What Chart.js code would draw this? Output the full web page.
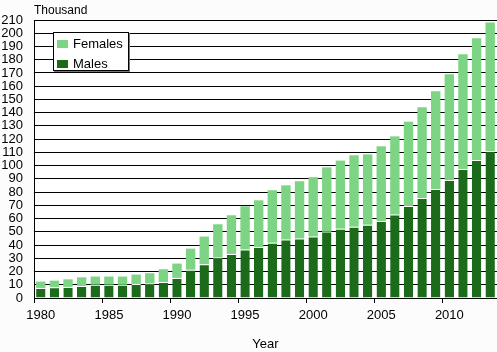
<!DOCTYPE html>
<html>
<head>
<meta charset="utf-8">
<script src="https://cdn.jsdelivr.net/npm/chart.js@4/dist/chart.umd.min.js"></script>
<style>
  html, body { margin: 0; padding: 0; background: #fcfcfc; }
  #wrap { position: relative; width: 497px; height: 352px; }
  #legend { position: absolute; left: 53px; top: 32px; width: 74px; height: 37px;
    border: 1px solid #000; background: #fff; box-shadow: 1px 1px 0 #777;
    font: 13px "Liberation Sans", Arial, sans-serif; color: #000; }
  .item { position: absolute; left: 3px; height: 16px; line-height: 16px; white-space: nowrap; }
  .sw { display: inline-block; width: 11px; height: 8px; margin-right: 5px; vertical-align: 0px; }
</style>
</head>
<body>
<div id="wrap">
  <canvas id="c" width="497" height="352"></canvas>
  <div id="legend"></div>
</div>
<script>
const years = [1980,1981,1982,1983,1984,1985,1986,1987,1988,1989,1990,1991,1992,1993,1994,1995,1996,1997,1998,1999,2000,2001,2002,2003,2004,2005,2006,2007,2008,2009,2010,2011,2012,2013];
const males = [7.6,8.1,8.4,9.1,10.1,10.1,10.0,10.6,10.9,12.1,15.2,21.4,25.5,30.5,33.3,36.6,38.6,41.8,44.1,44.9,46.4,50.2,52.4,53.9,55.4,58.2,63.0,69.5,75.6,82.4,89.2,97.5,104.3,110.8];
const females = [4.8,5.0,5.7,6.5,6.1,6.1,6.2,7.1,7.8,9.6,10.8,15.9,20.9,25.2,29.2,32.7,35.2,39.6,41.0,43.3,44.9,48.5,51.4,53.9,53.1,56.4,59.1,63.7,68.4,73.7,79.8,86.6,91.9,97.4];
const seriesNames = ['Males', 'Females'];
const unitLabel = 'Thousand';
const axisTitle = 'Year';
const yMax = 210, yStep = 10;

const FONT = '"Liberation Sans", Arial, sans-serif';
const DARK = '#1b6b1b', LIGHT = '#7dd484';

const bgPlugin = {
  id: 'bg',
  beforeDraw(chart) {
    const {ctx, chartArea: a} = chart;
    ctx.save();
    ctx.fillStyle = '#ffffff';
    ctx.fillRect(a.left, a.top, a.right - a.left, a.bottom - a.top);
    ctx.restore();
  },
  afterDraw(chart) {
    const {ctx, chartArea: a} = chart;
    ctx.save();
    ctx.fillStyle = '#000';
    ctx.font = '12px ' + FONT;
    ctx.textBaseline = 'alphabetic';
    ctx.textAlign = 'left';
    ctx.fillText(unitLabel, a.left, 13.5);
    ctx.restore();
  }
};

const chart = new Chart(document.getElementById('c'), {
  type: 'bar',
  data: {
    labels: years,
    datasets: [
      { label: seriesNames[0], data: males, backgroundColor: DARK,
        borderColor: '#ffffff', borderWidth: {top: 1, left: 0, right: 0, bottom: 0}, borderSkipped: 'start' },
      { label: seriesNames[1], data: females, backgroundColor: LIGHT, borderWidth: 0 }
    ]
  },
  options: {
    responsive: false,
    animation: false,
    devicePixelRatio: 1,
    layout: { padding: { top: 20, right: 0, bottom: 0, left: 0 } },
    datasets: { bar: { categoryPercentage: 1.0, barPercentage: 0.69 } },
    plugins: { legend: { display: false }, tooltip: { enabled: false } },
    scales: {
      x: {
        stacked: true,
        offset: true,
        afterFit(s) { s.height = 54; },
        grid: {
          drawOnChartArea: false, drawTicks: true, tickLength: 5,
          color: (c) => (c.index % 5 === 0 ? '#000' : 'rgba(0,0,0,0)'), lineWidth: 1
        },
        border: { display: true, color: '#000', width: 1 },
        ticks: {
          autoSkip: false, maxRotation: 0, padding: 5, color: '#000',
          font: { family: FONT, size: 13 },
          callback: function(v, i) { const y = years[i]; return y % 5 === 0 ? String(y) : ''; }
        },
        title: { display: true, text: axisTitle, color: '#000', font: { family: FONT, size: 13 }, padding: 0 }
      },
      y: {
        stacked: true,
        min: 0, max: yMax,
        afterFit(s) { s.width = 34; },
        grid: { color: '#000', lineWidth: 1, drawTicks: false },
        border: { display: true, color: '#000', width: 1 },
        ticks: { stepSize: yStep, autoSkip: false, padding: 11, color: '#000', font: { family: FONT, size: 13 } }
      }
    }
  },
  plugins: [bgPlugin]
});

// legend built from the chart's datasets (top item = last dataset)
const leg = document.getElementById('legend');
const ds = chart.data.datasets.slice().reverse();
ds.forEach((d, i) => {
  const it = document.createElement('div');
  it.className = 'item';
  it.style.top = (3 + i * 20) + 'px';
  const sw = document.createElement('span');
  sw.className = 'sw';
  sw.style.background = d.backgroundColor;
  it.appendChild(sw);
  it.appendChild(document.createTextNode(d.label));
  leg.appendChild(it);
});
</script>
</body>
</html>
